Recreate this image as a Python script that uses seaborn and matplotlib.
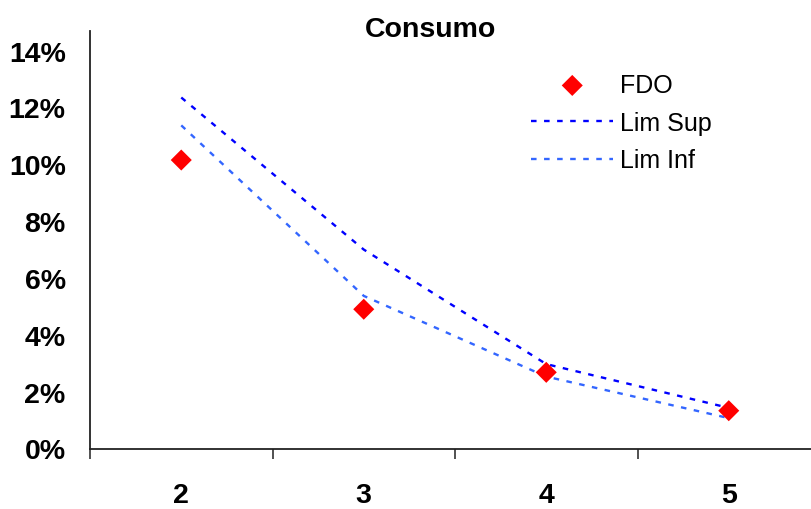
import matplotlib
matplotlib.use("Agg")
import matplotlib.pyplot as plt
import matplotlib.ticker as mticker
import numpy as np
import pandas as pd
import seaborn as sns

# Forecast horizon (periods) and series, as fractions
horizon = [2, 3, 4, 5]
fdo = [0.1015, 0.0490, 0.0268, 0.0133]
lim_sup = [0.1235, 0.0700, 0.0297, 0.0143]
lim_inf = [0.1137, 0.0537, 0.0253, 0.0107]
y_ticks = [0.00, 0.02, 0.04, 0.06, 0.08, 0.10, 0.12, 0.14]

sns.set_theme(style="white")
plt.rcParams["font.family"] = ["Liberation Sans", "DejaVu Sans"]
plt.rcParams["text.color"] = "black"

lines = pd.DataFrame({
    "horizon": horizon * 2,
    "value": lim_sup + lim_inf,
    "serie": ["Lim Sup"] * 4 + ["Lim Inf"] * 4,
})
points = pd.DataFrame({"horizon": horizon, "value": fdo})

fig = plt.figure(figsize=(8.12, 5.10), dpi=100)
ax = fig.add_axes([90 / 812, 60.5 / 510, 730 / 812, 417.5 / 510])

sns.scatterplot(data=points, x="horizon", y="value", marker="D", s=115,
                color="#FF0000", edgecolor="none", label="FDO", ax=ax, zorder=3)
lw = 1.7
dash = (0, (4.0 / lw, 5.4 / lw))
sns.lineplot(data=lines[lines.serie == "Lim Sup"], x="horizon", y="value",
             color="#0000FF", linewidth=lw, linestyle=dash,
             label="Lim Sup", ax=ax)
sns.lineplot(data=lines[lines.serie == "Lim Inf"], x="horizon", y="value",
             color="#3366FF", linewidth=lw, linestyle=dash,
             label="Lim Inf", ax=ax)

ax.set_xlim(1.5, 5.5)
ax.set_ylim(0, 0.1469)
ax.set_xlabel("")
ax.set_ylabel("")

ax.set_yticks(y_ticks)
ax.yaxis.set_major_formatter(mticker.PercentFormatter(1.0, decimals=0))
ax.set_xticks(horizon)
ax.set_xticklabels([str(h) for h in horizon])
ax.set_xticks([1.5, 2.5, 3.5, 4.5, 5.5], minor=True)

ax.tick_params(axis="y", which="major", direction="out", length=6.5, width=1,
               color="#000000", pad=11, labelsize=20.5)
ax.tick_params(axis="x", which="major", length=0, pad=24, labelsize=20.5)
ax.tick_params(axis="x", which="minor", direction="out", length=7.5, width=1.2,
               color="#333333", bottom=True)
for lab in ax.get_xticklabels() + ax.get_yticklabels():
    lab.set_fontweight("bold")
    lab.set_color("black")

for side in ["top", "right"]:
    ax.spines[side].set_visible(False)
for side in ["left", "bottom"]:
    ax.spines[side].set_color("#222222")
    ax.spines[side].set_linewidth(1.3)
ax.grid(False)

leg = ax.legend(loc="upper left", bbox_to_anchor=(531 / 812, 1 - 74 / 510),
                bbox_transform=fig.transFigure, frameon=False, fontsize=18,
                handlelength=3.3, handletextpad=0.26, labelspacing=0.55,
                borderaxespad=0, borderpad=0)
for t in leg.get_texts():
    t.set_color("black")

fig.text(431 / 812, 1 - 30 / 510, "Consumo", ha="center", va="center",
         fontsize=20.5, fontweight="bold", color="black")

fig.savefig("out.png", dpi=100)
